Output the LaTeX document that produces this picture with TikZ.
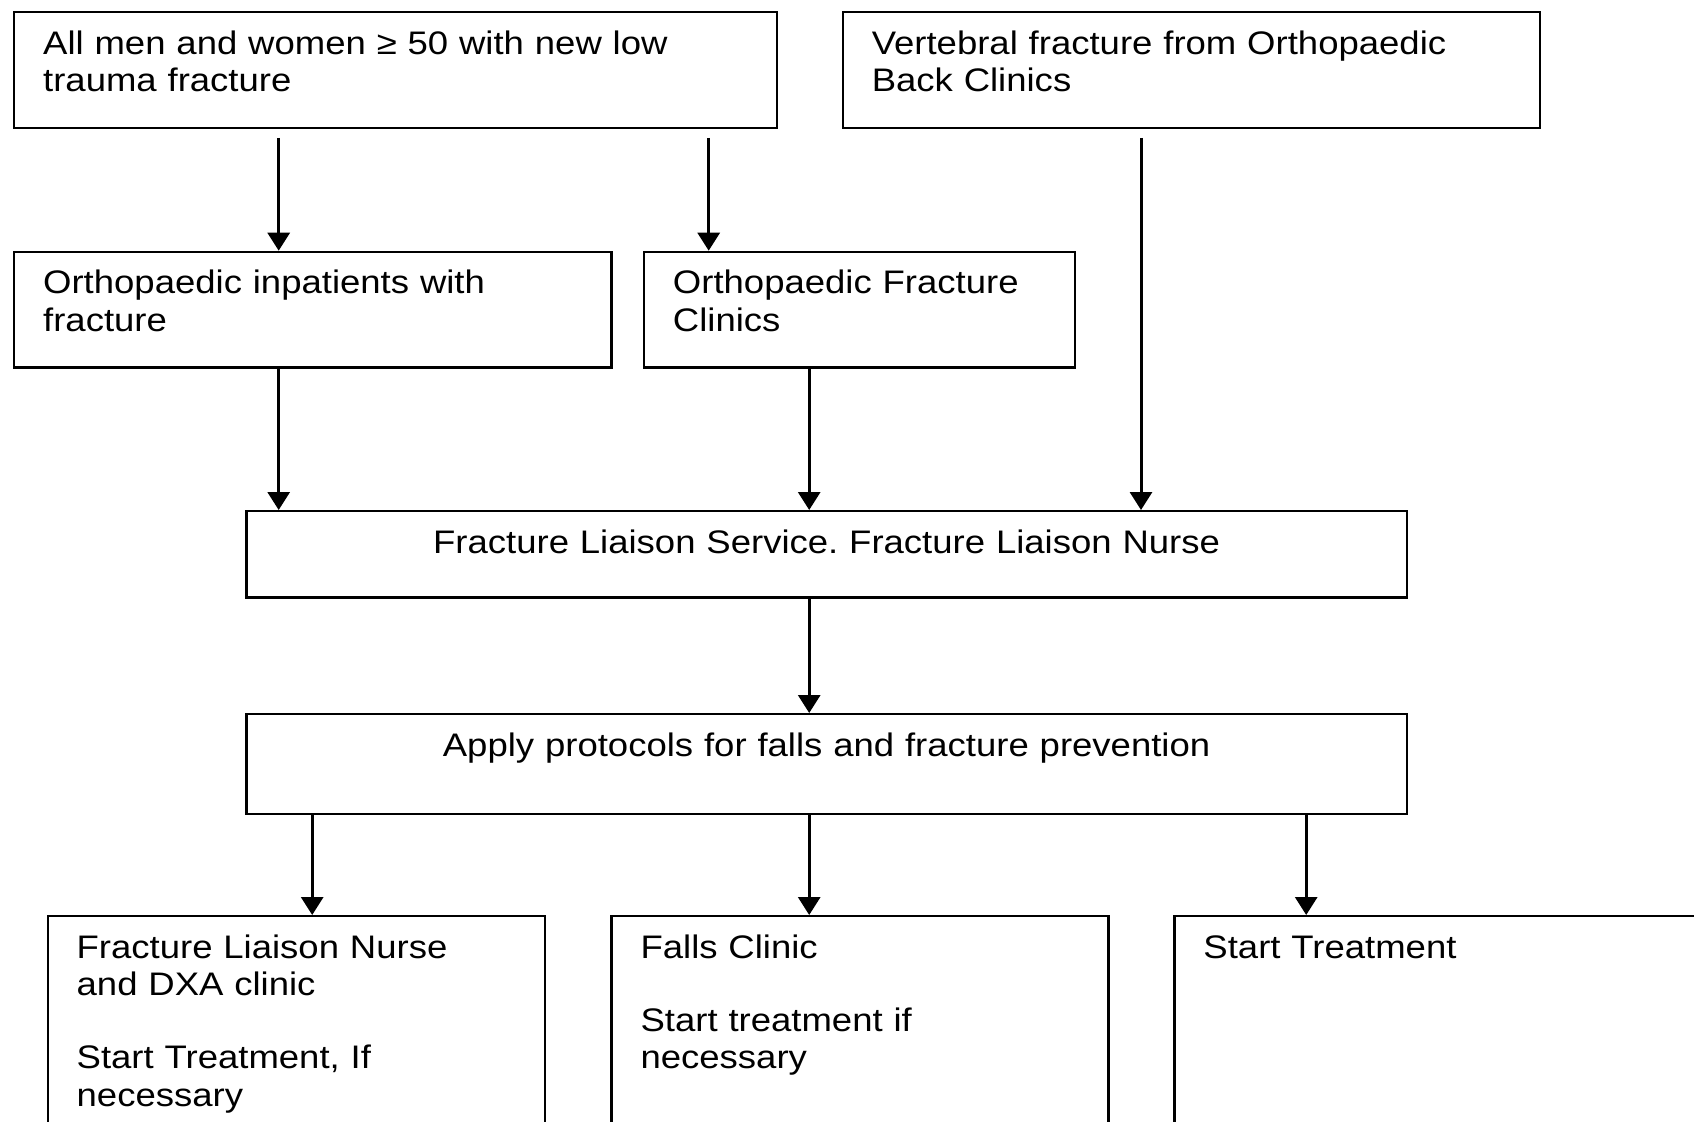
\documentclass[tikz,border=0pt]{standalone}
\usepackage{fontspec}
\setmainfont{Liberation Sans}[FakeStretch=1.12]
\usetikzlibrary{arrows.meta}
\frenchspacing

\begin{document}
\begin{tikzpicture}[x=0.5pt, y=-0.5pt,              % one unit = one pixel, y down
                    every node/.style={font=\fontsize{16.3pt}{18.7pt}\selectfont},
                    fbox/.style={draw, line width=1.15pt, anchor=north west,
                                 inner xsep=14.5pt, inner ysep=0pt,
                                 text height=21pt, align=left},
                    link/.style={line width=1.5pt,
                                 -{Triangle[width=11pt,length=9pt]}}]

\useasboundingbox (0,0) rectangle (1694,1121);
\clip (0,0) rectangle (1694,1121);

% ---------------------------------------------------------------
% Arrow columns
\coordinate (xin)   at (278.7,0);   % inpatients column
\coordinate (xclin) at (708.7,0);   % fracture clinics column
\coordinate (xmid)  at (809.2,0);   % centre column
\coordinate (xback) at (1141,0);    % back clinics column
\coordinate (xdxa)  at (312.2,0);   % DXA column
\coordinate (xtreat)at (1306.2,0);  % treatment column

% ---------------------------------------------------------------
% Boxes
\node[fbox, text width=352.5pt, text depth=36.75pt] (allfx) at (13,11)
      {All men and women ≥ 50 with new low\\trauma fracture};
\node[fbox, text width=319.5pt, text depth=36.75pt] (vertfx) at (841.6,11)
      {Vertebral fracture from Orthopaedic\\Back Clinics};

\node[fbox, text width=269.7pt, text depth=36.8pt] (inpat) at (13,250.7)
      {Orthopaedic inpatients with\\fracture};
\node[fbox, text width=186.5pt, text depth=36.8pt] (fxclin) at (642.8,250.7)
      {Orthopaedic Fracture\\Clinics};

\node[fbox, align=center, text width=551.15pt, text depth=22.2pt] (fls) at (245.3,510)
      {Fracture Liaison Service. Fracture Liaison Nurse};
\node[fbox, align=center, text width=551.15pt, text depth=28.75pt] (protocol) at (245.3,713)
      {Apply protocols for falls and fracture prevention};

\node[fbox, text width=219.5pt, text depth=91.5pt] (dxa) at (46.5,915)
      {Fracture Liaison Nurse\\and DXA clinic\\[18pt]Start Treatment, If\\necessary};
\node[fbox, text width=219.5pt, text depth=91.5pt] (falls) at (610.4,915)
      {Falls Clinic\\[18pt]Start treatment if\\necessary};
\node[fbox, text width=244.35pt, text depth=91.5pt] (treat) at (1173.3,915)
      {Start Treatment};

% ---------------------------------------------------------------
% Arrows
\draw[link, shorten <=4.5pt] (allfx.south -| xin)   -- (inpat.north -| xin);
\draw[link, shorten <=4.5pt] (allfx.south -| xclin) -- (fxclin.north -| xclin);
\draw[link, shorten <=4.5pt] (vertfx.south -| xback) -- (fls.north -| xback);

\draw[link] (inpat.south -| xin)    -- (fls.north -| xin);
\draw[link] (fxclin.south -| xmid)  -- (fls.north -| xmid);
\draw[link] (fls.south -| xmid)     -- (protocol.north -| xmid);

\draw[link] (protocol.south -| xdxa)   -- (dxa.north -| xdxa);
\draw[link] (protocol.south -| xmid)   -- (falls.north -| xmid);
\draw[link] (protocol.south -| xtreat) -- (treat.north -| xtreat);

\end{tikzpicture}
\end{document}
